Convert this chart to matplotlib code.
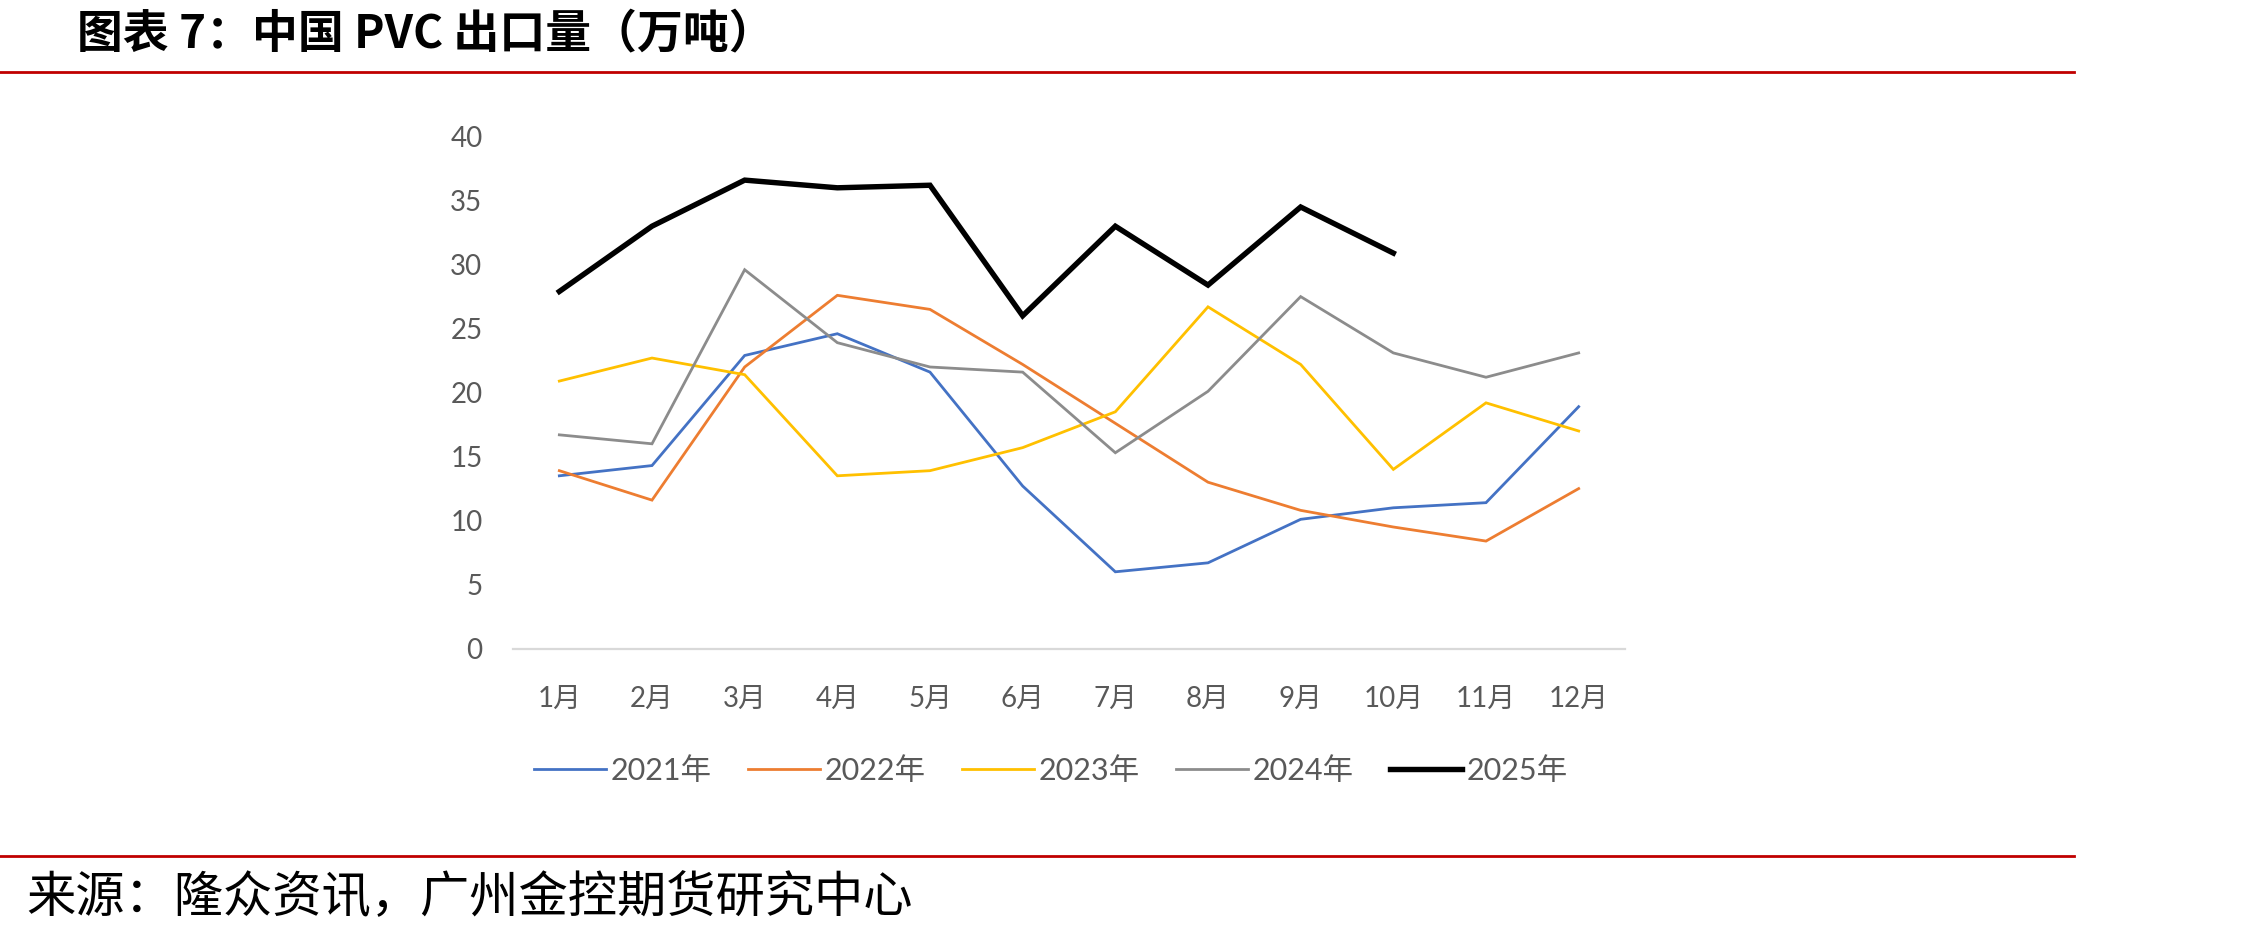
import matplotlib
matplotlib.use("Agg")
import matplotlib.pyplot as plt
from matplotlib.lines import Line2D

months = ["1月", "2月", "3月", "4月", "5月", "6月", "7月", "8月", "9月", "10月", "11月", "12月"]
y2021 = [13.5, 14.3, 22.9, 24.6, 21.6, 12.7, 6.0, 6.7, 10.1, 11.0, 11.4, 18.9]
y2022 = [13.9, 11.6, 22.0, 27.6, 26.5, 22.2, 17.6, 13.0, 10.8, 9.5, 8.4, 12.5]
y2023 = [20.9, 22.7, 21.4, 13.5, 13.9, 15.7, 18.5, 26.7, 22.2, 14.0, 19.2, 17.0]
y2024 = [16.7, 16.0, 29.6, 23.9, 22.0, 21.6, 15.3, 20.1, 27.5, 23.1, 21.2, 23.1]
y2025 = [27.9, 33.0, 36.6, 36.0, 36.2, 26.0, 33.0, 28.4, 34.5, 30.9]
series_labels = ["2021年", "2022年", "2023年", "2024年", "2025年"]
yticks = [0, 5, 10, 15, 20, 25, 30, 35, 40]

title_text = "图表 7：中国 PVC 出口量（万吨）"
source_text = "来源：隆众资讯，广州金控期货研究中心"

W, H = 2255, 933
fig = plt.figure(figsize=(W / 100, H / 100), dpi=100)
fig.patch.set_facecolor("white")

ax_l, ax_r = 513, 1625
ax_b, ax_t = 648.6, 136.6
ax = fig.add_axes([ax_l / W, 1 - ax_b / H, (ax_r - ax_l) / W, (ax_b - ax_t) / H])

tick_font = ["Lato", "Noto Sans CJK SC"]
colors = ["#4472C4", "#ED7D31", "#FFC000", "#8C8C8C", "#000000"]
widths = [2.0, 2.0, 2.0, 2.0, 3.9]
all_series = [y2021, y2022, y2023, y2024, y2025]
x = list(range(len(months)))
for s, c, lw, lab in zip(all_series, colors, widths, series_labels):
    ax.plot(x[:len(s)], s, color=c, lw=lw, label=lab, solid_joinstyle="miter")

ax.set_xlim(-0.5, len(months) - 0.5)
ax.set_ylim(0, 40)
ax.set_yticks(yticks)
ax.set_yticklabels([str(v) for v in yticks], family=tick_font, fontsize=20, color="#595959")
ax.set_xticks(x)
ax.set_xticklabels(months, family=tick_font, fontsize=20, color="#595959")
ax.tick_params(axis="y", length=0, pad=22)
ax.tick_params(axis="x", length=0, pad=27)
for sp in ["top", "right", "left"]:
    ax.spines[sp].set_visible(False)
ax.spines["bottom"].set_color("#D9D9D9")
ax.spines["bottom"].set_linewidth(1.6)

leg = fig.legend(loc="center", bbox_to_anchor=(1051 / W, 1 - 771 / H), ncol=5, frameon=False,
                 prop={"family": tick_font, "size": 22}, handlelength=2.35, handletextpad=0.15,
                 columnspacing=1.2)
for t in leg.get_texts():
    t.set_color("#595959")

red = "#C00000"
fig.add_artist(Line2D([0, 2074 / W], [1 - 72 / H] * 2, transform=fig.transFigure, color=red, lw=2))
fig.add_artist(Line2D([0, 2074 / W], [1 - 856 / H] * 2, transform=fig.transFigure, color=red, lw=2))

fig.text(77 / W, 1 - 34 / H, title_text, family=["Noto Sans CJK SC", "DejaVu Sans"], fontweight="bold",
         fontsize=33, va="center", ha="left", color="black")
fig.text(26 / W, 1 - 899 / H, source_text, family=["Noto Sans CJK SC", "DejaVu Sans"],
         fontsize=35.5, va="center", ha="left", color="black")

fig.savefig("out.png", dpi=100, facecolor="white")
